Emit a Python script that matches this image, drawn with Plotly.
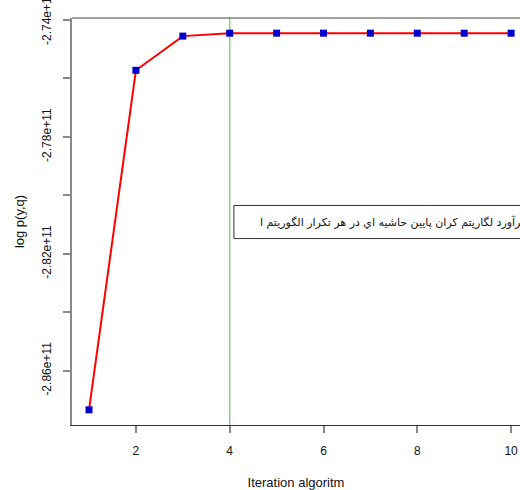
import plotly.graph_objects as go

iterations = [1, 2, 3, 4, 5, 6, 7, 8, 9, 10]
log_bound = [-2.8734e11, -2.7572e11, -2.7455e11, -2.7445e11, -2.7445e11,
             -2.7445e11, -2.7445e11, -2.7445e11, -2.7445e11, -2.7445e11]
x_ticks = [2, 4, 6, 8, 10]
y_ticks = [-2.86e11, -2.84e11, -2.82e11, -2.80e11, -2.78e11, -2.76e11, -2.74e11]
y_ticktext = ["-2.86e+11", "", "-2.82e+11", "", "-2.78e+11", "", "-2.74e+11"]
vline_x = 4
legend_text = "برآورد لگاریتم کران پایین حاشیه اي در هر تکرار الگوریتم ا"

FONT = "Liberation Sans, Arial, DejaVu Sans, sans-serif"

fig = go.Figure()
fig.add_trace(go.Scatter(
    x=iterations, y=log_bound, mode="lines+markers",
    line=dict(color="#ff0000", width=2),
    marker=dict(symbol="square", size=7, color="#0000cd"),
    showlegend=False,
))

y0, y1 = -2.8786e11, -2.7393e11
x0, x1 = 0.637, 10.19

fig.add_shape(type="line", xref="x", yref="paper", x0=vline_x, x1=vline_x, y0=0, y1=1,
              line=dict(color="#8fcc8f", width=1.5), layer="below")
# top frame line
fig.add_shape(type="line", xref="paper", yref="paper", x0=0, x1=1.05, y0=1, y1=1,
              line=dict(color="#444444", width=1.2))
# legend box
fig.add_shape(type="rect", xref="x", yref="y", x0=4.09, x1=12, y0=-2.81479e11, y1=-2.80346e11,
              line=dict(color="#333333", width=1), fillcolor="white")
fig.add_annotation(x=4.60, y=-2.8091e11, xref="x", yref="y", text=legend_text,
                   showarrow=False, xanchor="left", yanchor="middle",
                   font=dict(family="DejaVu Sans, Noto Sans, sans-serif", size=11, color="#111111"))

fig.update_xaxes(
    range=[x0, x1], tickvals=x_ticks, ticktext=[str(v) for v in x_ticks],
    showgrid=False, zeroline=False, showline=True, linecolor="#333333", linewidth=1.2,
    ticks="outside", ticklen=7, tickcolor="#888888", tickwidth=1.5,
    ticklabelstandoff=7, ticklabeloverflow="allow",
    tickfont=dict(family=FONT, size=12, color="#111111"),
    title=dict(text="Iteration algoritm", font=dict(family=FONT, size=13, color="#111111"), standoff=22),
)
fig.update_yaxes(
    range=[y0, y1], tickvals=y_ticks, ticktext=y_ticktext, tickangle=-90,
    showgrid=False, zeroline=False, showline=True, linecolor="#888888", linewidth=1.5,
    ticks="outside", ticklen=7, tickcolor="#888888", tickwidth=1.5,
    ticklabelstandoff=7, ticklabeloverflow="allow",
    tickfont=dict(family=FONT, size=12, color="#111111"),
    title=dict(text="log p(y,q)", font=dict(family=FONT, size=13, color="#111111"), standoff=13),
)
fig.update_layout(
    width=520, height=490,
    margin=dict(l=72, r=0, t=18, b=65, autoexpand=False),
    plot_bgcolor="white", paper_bgcolor="white",
    showlegend=False,
)
fig.write_html("out.html", config={"displayModeBar": False},
               post_script="document.body.style.margin='0';document.body.style.overflow='hidden';")
